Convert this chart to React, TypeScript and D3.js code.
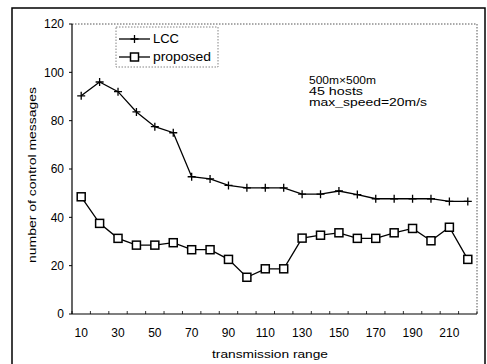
import React from "react";
import * as d3 from "d3";

const ranges = [10,20,30,40,50,60,70,80,90,100,110,120,130,140,150,160,170,180,190,200,210,220];
const lccValues = [90.3,96,92,83.6,77.5,75,56.8,55.9,53.2,52.2,52.2,52.2,49.6,49.6,50.9,49.4,47.7,47.7,47.7,47.7,46.6,46.6];
const proposedValues = [48.5,37.5,31.3,28.5,28.5,29.5,26.6,26.6,22.6,15.2,18.7,18.7,31.4,32.6,33.6,31.3,31.3,33.6,35.4,30.3,35.9,22.6];
const yTicks = [0,20,40,60,80,100,120];
const xTickLabels = [10,30,50,70,90,110,130,150,170,190,210];
const annotation = ["500m×500m", "45 hosts", "max_speed=20m/s"];
const annotationWidths = [67, 54, 118];

const W = 487, H = 364;
const L = 72, R = 477, T = 24, B = 314;
const font = "'Liberation Sans', Arial, sans-serif";

export default function App() {
  const x = d3.scaleBand<number>().domain(ranges).range([L, R]);
  const cx = (v: number) => (x(v) as number) + x.bandwidth() / 2;
  const y = d3.scaleLinear().domain([0, 120]).range([B, T]);
  const line = d3.line<number>().x((_, i) => cx(ranges[i])).y(d => y(d));
  const boundaries = d3.range(ranges.length + 1).map(i => L + i * x.bandwidth());

  return (
    <svg width={W} height={H} style={{ position: "absolute", left: 0, top: 0, background: "#fff" }}>
      <rect x={0} y={0} width={W} height={H} fill="#fff" />
      <rect x={12} y={8} width={473} height={420} fill="none" stroke="#000" strokeWidth={1.5} />
      <path d={`M${L},${T}H${R}V${B}`} fill="none" stroke="#555" strokeWidth={1} strokeDasharray="1.5,1.5" />
      <line x1={L} y1={T} x2={L} y2={B} stroke="#000" strokeWidth={1.2} />
      <line x1={L} y1={B} x2={R} y2={B} stroke="#000" strokeWidth={1.2} />
      {yTicks.map(t => (
        <g key={t}>
          <line x1={L - 3} x2={L} y1={y(t)} y2={y(t)} stroke="#000" />
          <text x={L - 8} y={y(t)} dy="0.35em" textAnchor="end" fontFamily={font} fontSize={12}>{t}</text>
        </g>
      ))}
      {boundaries.map((bx, i) => (
        <line key={i} x1={bx} x2={bx} y1={B} y2={B - 3} stroke="#000" strokeWidth={0.8} />
      ))}
      {xTickLabels.map(t => (
        <text key={t} x={cx(t)} y={337} textAnchor="middle" fontFamily={font} fontSize={12}>{t}</text>
      ))}
      <text x={270} y={358} textAnchor="middle" fontFamily={font} fontSize={11} textLength={116} lengthAdjust="spacingAndGlyphs">transmission range</text>
      <text transform={`translate(36,175) rotate(-90)`} textAnchor="middle" fontFamily={font} fontSize={11} textLength={176} lengthAdjust="spacingAndGlyphs">number of control messages</text>

      <path d={line(lccValues) || ""} fill="none" stroke="#000" strokeWidth={1.3} />
      {lccValues.map((v, i) => (
        <path key={i} d={`M${cx(ranges[i]) - 4},${y(v)}h8M${cx(ranges[i])},${y(v) - 4}v8`} stroke="#000" strokeWidth={1.3} />
      ))}
      <path d={line(proposedValues) || ""} fill="none" stroke="#000" strokeWidth={1.3} />
      {proposedValues.map((v, i) => (
        <rect key={i} x={cx(ranges[i]) - 4} y={y(v) - 4} width={8} height={8} fill="#fff" stroke="#000" strokeWidth={1.5} />
      ))}

      <rect x={116} y={27} width={102} height={40} fill="#fff" stroke="#666" strokeWidth={0.8} strokeDasharray="1.5,1.5" />
      <line x1={119} x2={150} y1={39} y2={39} stroke="#000" strokeWidth={1.3} />
      <path d={`M130.5,39h8M134.5,35v8`} stroke="#000" strokeWidth={1.3} />
      <text x={153} y={39} dy="0.35em" fontFamily={font} fontSize={12} textLength={26} lengthAdjust="spacingAndGlyphs">LCC</text>
      <line x1={119} x2={150} y1={57} y2={57} stroke="#000" strokeWidth={1.3} />
      <rect x={130.5} y={53} width={8} height={8} fill="#fff" stroke="#000" strokeWidth={1.5} />
      <text x={153} y={57} dy="0.35em" fontFamily={font} fontSize={12} textLength={58} lengthAdjust="spacingAndGlyphs">proposed</text>

      {annotation.map((s, i) => (
        <text key={i} x={309} y={84 + i * 11} fontFamily={font} fontSize={10.5} textLength={annotationWidths[i]} lengthAdjust="spacingAndGlyphs">{s}</text>
      ))}
    </svg>
  );
}
